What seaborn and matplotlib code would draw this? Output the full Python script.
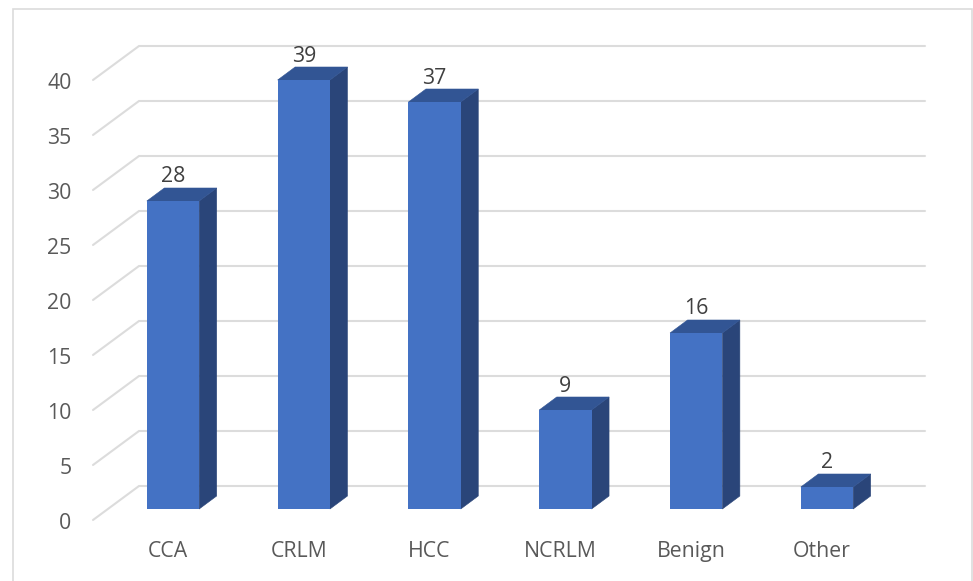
import matplotlib
matplotlib.use("Agg")
import matplotlib.pyplot as plt
from matplotlib.lines import Line2D
from matplotlib.patches import Polygon, Rectangle
from matplotlib.transforms import ScaledTranslation
import pandas as pd
import seaborn as sns

categories = ["CCA", "CRLM", "HCC", "NCRLM", "Benign", "Other"]
counts = [28, 39, 37, 9, 16, 2]
y_ticks = [0, 5, 10, 15, 20, 25, 30, 35, 40]

FIG_W, FIG_H, DPI = 973, 581, 100
FRONT, TOP, SIDE = "#4472C4", "#325594", "#2A4579"
GRID = "#DCDCDC"

sns.set_theme(style="white")
plt.rcParams["font.family"] = ["Open Sans", "DejaVu Sans"]

fig = plt.figure(figsize=(FIG_W / DPI, FIG_H / DPI), dpi=DPI)

# Axes span: bar plane runs 107.6-892.4 px across, 509-69 px down
ax = fig.add_axes([107.6 / FIG_W, 1 - 509 / FIG_H, 784.8 / FIG_W, 440 / FIG_H])
ax.set_facecolor("none")
ax.patch.set_alpha(0)

px_x = 784.8 / 6   # pixels per category
px_y = 11.0        # pixels per count


def dx(px):
    return px / px_x


def dy(px):
    return px / px_y


# Chart frame
fig.add_artist(Rectangle((13 / FIG_W, -0.1), (972 - 13) / FIG_W, 1.1 - 9.5 / FIG_H,
                         transform=fig.transFigure, fill=False, edgecolor="#DCDCDC", lw=1.2))

# Wall gridlines with the floor-slanted stub on the left
for v in y_ticks:
    ax.add_line(Line2D(
        [dx(93 - 173), dx(139 - 173), dx(925 - 173)],
        [v - dy(11), v + dy(23), v + dy(23)],
        color=GRID, lw=1.5, clip_on=False, zorder=1, solid_joinstyle="miter",
    ))

frame = pd.DataFrame({"category": categories, "count": counts})
sns.barplot(data=frame, x="category", y="count", color=FRONT, saturation=1,
            width=0.4, ax=ax, zorder=3, linewidth=0)

# Extrude each bar into a box and label it
depth_x, depth_y = dx(17.5), dy(13)
for patch, value in zip(list(ax.patches), counts):
    x0 = patch.get_x()
    x1 = x0 + patch.get_width()
    ax.add_patch(Polygon(
        [(x1, 0), (x1 + depth_x, depth_y), (x1 + depth_x, value + depth_y), (x1, value)],
        closed=True, facecolor=SIDE, edgecolor=SIDE, lw=0.4, clip_on=False, zorder=2.9))
    ax.add_patch(Polygon(
        [(x0, value), (x1, value), (x1 + depth_x, value + depth_y), (x0 + depth_x, value + depth_y)],
        closed=True, facecolor=TOP, edgecolor=TOP, lw=0.4, clip_on=False, zorder=2.9))
    ax.text((x0 + x1) / 2, value + depth_y + dy(13.5), str(value), ha="center", va="center_baseline",
            fontsize=15.3, color="#404040", clip_on=False, zorder=4)

ax.set_xlim(-0.5, 5.5)
ax.set_ylim(0, 40)
ax.set_xlabel("")
ax.set_ylabel("")
ax.set_yticks(y_ticks)
ax.set_xticks(range(len(categories)))
ax.set_xticklabels(categories)
ax.tick_params(axis="both", length=0, labelsize=15.3, labelcolor="#595959")
ax.tick_params(axis="x", pad=23)
ax.tick_params(axis="y", pad=26)
sns.despine(ax=ax, left=True, bottom=True)

# Tick labels sit on the front edge of the floor, not on the bar plane
x_shift = ScaledTranslation(-5 / DPI, 0, fig.dpi_scale_trans)
y_shift = ScaledTranslation(0, -12 / DPI, fig.dpi_scale_trans)
for label in ax.get_xticklabels():
    label.set_transform(label.get_transform() + x_shift)
for label in ax.get_yticklabels():
    label.set_transform(label.get_transform() + y_shift)

fig.savefig("out.png", dpi=DPI, facecolor="white")
